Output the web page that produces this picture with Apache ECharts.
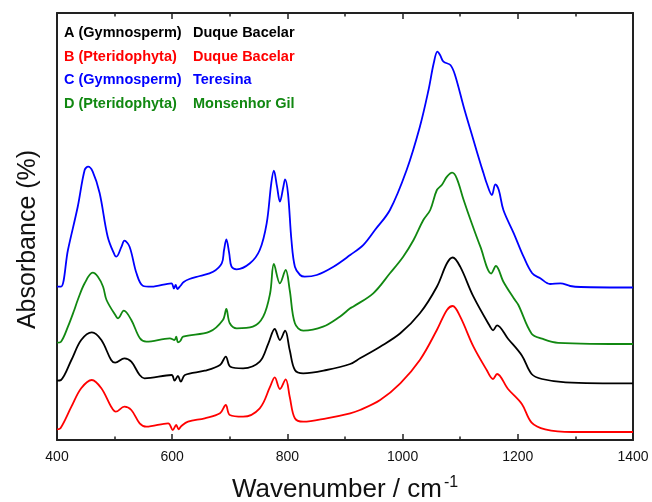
<!DOCTYPE html>
<html>
<head>
<meta charset="utf-8">
<script src="https://cdn.jsdelivr.net/npm/echarts@6/dist/echarts.min.js"></script>
<style>
  html, body { margin: 0; padding: 0; background: #fff; }
  #chart { width: 652px; height: 502px; }
</style>
</head>
<body>
<div id="chart"></div>
<script>
// sample labels (legend, two columns)
const sampleNames = ['A (Gymnosperm)', 'B (Pteridophyta)', 'C (Gymnosperm)', 'D (Pteridophyta)']
const siteNames = ['Duque Bacelar', 'Duque Bacelar', 'Teresina', 'Monsenhor Gil']
const lineColors = ['#000000', '#ff0000', '#0000ff', '#118811']

// x tick labels
const xTicks = [400, 600, 800, 1000, 1200, 1400]

// A - black (wavenumber / absorbance, arbitrary offset units)
const aWn = [400, 407, 425, 442, 460.5, 477, 494, 501, 517, 529, 543.5, 552, 599, 604, 610, 615, 622, 656.5, 683, 693, 701, 723, 752, 767, 778, 787, 796, 804, 813, 827.5, 868, 909, 926, 961, 996, 1030, 1059.5, 1077, 1087, 1100, 1123, 1152, 1157, 1164, 1183, 1207, 1224, 1242, 1283, 1400]
const aAbs = [59.3, 60, 80, 100, 107.7, 100, 80, 77.3, 81.7, 78.3, 65, 61.7, 65, 59.3, 64, 58.3, 65, 69.3, 75, 83.3, 73.3, 71.7, 78.3, 96.7, 111, 100, 109.3, 90, 70, 66.7, 70, 76, 81.7, 93.3, 106.7, 126.7, 153.3, 176.7, 182.5, 173.3, 143.3, 113.3, 109.7, 114.7, 101.3, 84.5, 66, 61, 57.7, 56.6]

// B - red
const bWn = [400, 406, 425, 442, 460.5, 477, 494, 502, 517, 529, 543.5, 555, 593, 601, 607, 611, 616, 627.5, 656.5, 683, 693, 700, 723, 752, 770, 778, 787, 797, 804, 813, 827.5, 868, 909, 926, 961, 996, 1030, 1059.5, 1077, 1087, 1100, 1123, 1146, 1157, 1164, 1183, 1207, 1224, 1247.5, 1294, 1400]
const bAbs = [10.7, 11.7, 33.3, 51.7, 60, 51.7, 33.3, 28.3, 33.3, 30, 16.7, 13.3, 16.7, 10, 15, 10.7, 14, 18.3, 21.7, 26.7, 35, 25, 23.3, 31.7, 53.3, 62.7, 51, 60.7, 43.3, 21.7, 18.3, 21.7, 26.7, 30, 40, 56.7, 80, 110, 130, 134, 123.3, 93.3, 70, 61, 66, 51, 36, 17.4, 10.7, 8, 8]

// C - blue
const cWn = [400, 407, 419, 436, 448, 454, 462, 474, 488, 500, 503, 512, 517, 526, 538, 549, 564, 598.6, 603, 606, 609, 614, 620, 630, 648, 671, 686, 690, 694, 699, 703, 712, 735, 752, 764, 772, 776.5, 782, 787, 793, 796, 801, 807, 813, 822, 830, 851, 880, 909, 932, 952, 978, 1007, 1030, 1045, 1054, 1060.5, 1065, 1071, 1083, 1091, 1106, 1123, 1135, 1140.5, 1146, 1155, 1161, 1167, 1175, 1193, 1210, 1225, 1239, 1256, 1274, 1291, 1309, 1400]
const cAbs = [153.3, 153.3, 190, 233.3, 270, 273.3, 268.3, 247, 203.3, 185, 183.3, 193.3, 199.3, 193.3, 166.7, 154.3, 153.3, 156.7, 151.5, 155, 151, 154, 158, 161, 164, 168.3, 176.7, 190, 200.7, 186.7, 173.3, 170.7, 176.7, 190, 216.7, 256.7, 269.3, 253.3, 238.3, 253.3, 260.7, 246.7, 200, 173.3, 165, 163.3, 165, 173.3, 185, 195.2, 210, 230, 270, 313.3, 350, 376.7, 388.3, 385, 378.3, 375, 365, 333.3, 300, 276.7, 266.7, 256.7, 245, 255.7, 250, 230, 206.7, 183.3, 166.7, 161.7, 156, 156.7, 154, 153, 152.5]

// D - green
const dWn = [400, 407, 419, 430, 436, 448, 462, 471, 480, 486, 503, 506, 516, 529, 544, 555, 596, 604, 607, 610, 614, 619, 665, 688, 694, 700, 712, 740, 758, 770, 776.5, 787, 797, 804, 813, 827.5, 862, 891, 909, 914, 949, 978, 1001, 1019, 1036, 1048, 1059.5, 1068, 1077, 1086, 1094, 1106, 1120, 1135, 1154, 1162, 1175, 1193, 1201, 1224, 1242, 1270, 1400]
const dAbs = [97.3, 98.3, 113.3, 130, 140, 156.7, 167.3, 163.3, 153.3, 140, 123.3, 121.7, 129.3, 120, 101.7, 98.3, 101.7, 100, 103.3, 97.7, 99, 103.3, 108.3, 120, 131, 116.7, 111.7, 113.3, 123.3, 146.7, 176, 156.7, 170, 150, 116.7, 109.3, 113.3, 123.3, 131.7, 133.3, 146.7, 166.7, 183.3, 200, 220, 230, 250, 255, 263.3, 267.3, 261.7, 240, 216.7, 193.3, 166.5, 174, 158.3, 141.7, 135, 106.3, 101.3, 97.2, 96]

const FONT = '"Liberation Sans", Arial, sans-serif'
const AXIS_COLOR = '#222'

const zip = (xs, ys) => xs.map((x, i) => [x, ys[i]])
const curves = [zip(aWn, aAbs), zip(bWn, bAbs), zip(cWn, cAbs), zip(dWn, dAbs)]

const chart = echarts.init(document.getElementById('chart'))

const baseX = {
  type: 'value',
  min: 400,
  max: 1400,
  interval: 200,
  axisLine: { show: true, onZero: false, lineStyle: { color: AXIS_COLOR, width: 2 } },
  axisTick: { show: true, inside: true, length: 6, lineStyle: { color: AXIS_COLOR, width: 1.5 } },
  minorTick: { show: true, splitNumber: 2, length: 3.5, lineStyle: { color: AXIS_COLOR, width: 1.5 } },
  splitLine: { show: false }
}

const option = {
  backgroundColor: '#fff',
  animation: false,
  grid: { left: 57, right: 19, top: 13, bottom: 62, outerBoundsMode: 'none' },
  legend: {
    orient: 'vertical',
    left: 59,
    top: 25,
    padding: 0,
    itemWidth: 0,
    itemHeight: 16,
    itemGap: 7.5,
    icon: 'none',
    selectedMode: false,
    data: sampleNames.map((n, i) => ({
      name: n + ' ' + siteNames[i],
      textStyle: { color: lineColors[i] }
    })),
    formatter: name => {
      const i = sampleNames.findIndex((n, k) => name === n + ' ' + siteNames[k])
      return '{a|' + sampleNames[i] + '}{b|' + siteNames[i] + '}'
    },
    textStyle: {
      fontFamily: FONT,
      fontWeight: 'bold',
      fontSize: 14.5,
      lineHeight: 16,
      rich: {
        a: { width: 129, fontFamily: FONT, fontWeight: 'bold', fontSize: 14.5 },
        b: { fontFamily: FONT, fontWeight: 'bold', fontSize: 14.5 }
      }
    }
  },
  xAxis: [
    Object.assign({}, baseX, {
      position: 'bottom',
      axisLabel: {
        fontFamily: FONT,
        fontSize: 14,
        color: '#111',
        margin: 10,
        formatter: v => (xTicks.includes(v) ? String(v) : '')
      },
      name: '{t|Wavenumber / cm}{s|-1}',
      nameLocation: 'middle',
      nameGap: 35,
      nameTextStyle: {
        rich: {
          t: { fontFamily: FONT, fontSize: 26, color: '#111', lineHeight: 30 },
          s: { fontFamily: FONT, fontSize: 16, color: '#111', verticalAlign: 'top', lineHeight: 30, padding: [0, 0, 14, 2] }
        }
      }
    }),
    Object.assign({}, baseX, {
      position: 'top',
      axisLabel: { show: false }
    })
  ],
  yAxis: [
    {
      type: 'value',
      min: 0,
      max: 427,
      position: 'left',
      axisLine: { show: true, onZero: false, lineStyle: { color: AXIS_COLOR, width: 2 } },
      axisTick: { show: false },
      axisLabel: { show: false },
      splitLine: { show: false },
      name: 'Absorbance (%)',
      nameLocation: 'middle',
      nameGap: 16,
      nameTextStyle: { fontFamily: FONT, fontSize: 25, color: '#111', padding: [0, 26, 0, 0] }
    },
    {
      type: 'value',
      min: 0,
      max: 427,
      position: 'right',
      axisLine: { show: true, onZero: false, lineStyle: { color: AXIS_COLOR, width: 2 } },
      axisTick: { show: false },
      axisLabel: { show: false },
      splitLine: { show: false }
    }
  ],
  series: curves.map((data, i) => ({
    name: sampleNames[i] + ' ' + siteNames[i],
    type: 'line',
    data: data,
    xAxisIndex: 0,
    yAxisIndex: 0,
    showSymbol: false,
    smooth: 0.35,
    lineStyle: { color: lineColors[i], width: 1.8 },
    itemStyle: { color: lineColors[i] }
  }))
}

chart.setOption(option)
</script>
</body>
</html>
